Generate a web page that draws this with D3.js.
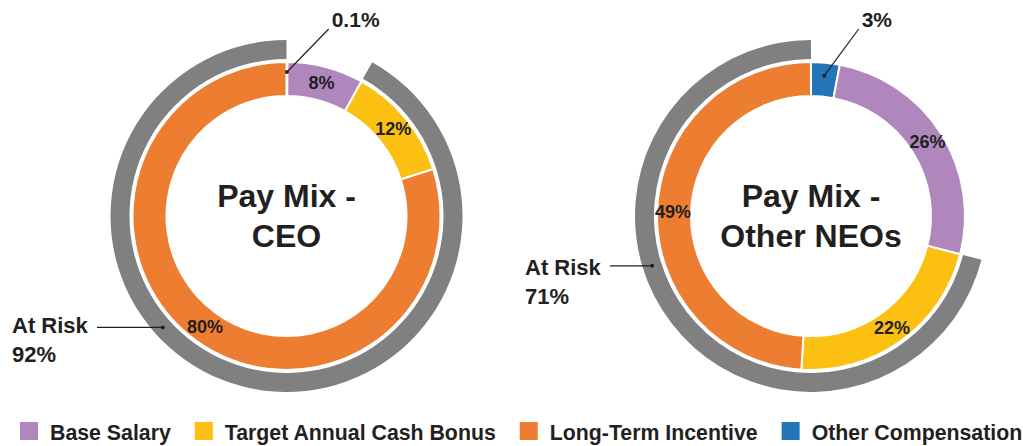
<!DOCTYPE html>
<html>
<head>
<meta charset="utf-8">
<script src="https://cdn.jsdelivr.net/npm/d3@7"></script>
<style>
  body { margin: 0; background: #fff; }
  text { font-family: "Liberation Sans", Arial, sans-serif; font-weight: bold; fill: #231f20; }
</style>
</head>
<body>
<script>
// data
var categories = ["Base Salary", "Target Annual Cash Bonus", "Long-Term Incentive", "Other Compensation"];
var colors = ["#af87bd", "#fbc012", "#ed7d31", "#2474b9"];
var ceoValues = [8, 12, 80, 0.1];
var neoValues = [26, 22, 49, 3];
var atRiskValues = [92, 71];
var titles = [["Pay Mix -", "CEO"], ["Pay Mix -", "Other NEOs"]];
var sliceOrder = [3, 0, 1, 2]; // other comp sits first at 12 o'clock
var atRiskCats = [1, 2];

var svg = d3.select("body").append("svg").attr("width", 1023).attr("height", 446);

var charts = [
  {cx: 286.5, cy: 216, values: ceoValues, title: titles[0], risk: atRiskValues[0],
   riskAngle: 228, riskText: [12, 333], calloutCat: 3, calloutText: [331.7, 27], calloutR: 144},
  {cx: 811, cy: 216, values: neoValues, title: titles[1], risk: atRiskValues[1],
   riskAngle: 252.6, riskText: [525, 275], calloutCat: 3, calloutText: [861.7, 27], calloutR: 141}
];

var arc = d3.arc().innerRadius(120).outerRadius(154);
var grayArc = d3.arc().innerRadius(157).outerRadius(176);
var labelArc = d3.arc().innerRadius(138).outerRadius(138);

function polar(cx, cy, r, deg) {
  var a = deg * Math.PI / 180;
  return [cx + r * Math.sin(a), cy - r * Math.cos(a)];
}

charts.forEach(function(c) {
  var items = sliceOrder.map(function(i) { return {cat: i, value: c.values[i]}; });
  var pie = d3.pie().sort(null).value(function(d) { return d.value; })(items);
  var g = svg.append("g").attr("transform", "translate(" + c.cx + "," + c.cy + ")");

  // gray at-risk ring
  var riskSlices = pie.filter(function(p) { return atRiskCats.indexOf(p.data.cat) >= 0; });
  g.append("path")
    .attr("d", grayArc({startAngle: d3.min(riskSlices, function(p) { return p.startAngle; }),
                        endAngle: d3.max(riskSlices, function(p) { return p.endAngle; })}))
    .attr("fill", "#808080");

  g.selectAll("path.slice").data(pie).enter().append("path")
    .attr("class", "slice")
    .attr("d", arc)
    .attr("fill", function(d) { return colors[d.data.cat]; })
    .attr("stroke", "#fff").attr("stroke-width", 2);

  // inner labels
  g.selectAll("text.lbl").data(pie.filter(function(p) { return p.data.cat !== c.calloutCat; }))
    .enter().append("text")
    .attr("class", "lbl")
    .attr("x", function(d) { return labelArc.centroid(d)[0]; })
    .attr("y", function(d) { return labelArc.centroid(d)[1]; })
    .attr("text-anchor", "middle").attr("dominant-baseline", "central")
    .style("font-size", "18px")
    .text(function(d) { return d.data.value + "%"; });

  // center title
  g.append("text").attr("text-anchor", "middle").attr("y", -9.3).style("font-size", "32px").text(c.title[0]);
  g.append("text").attr("text-anchor", "middle").attr("y", 30.5).style("font-size", "32px").text(c.title[1]);

  // callout for small slice
  var cs = pie.filter(function(p) { return p.data.cat === c.calloutCat; })[0];
  var midDeg = (cs.startAngle + cs.endAngle) / 2 * 180 / Math.PI;
  var dot = polar(c.cx, c.cy, c.calloutR, midDeg);
  svg.append("line").attr("x1", dot[0]).attr("y1", dot[1])
    .attr("x2", c.calloutText[0] - 3).attr("y2", c.calloutText[1] + 2)
    .attr("stroke", "#231f20").attr("stroke-width", 1.2);
  svg.append("circle").attr("cx", dot[0]).attr("cy", dot[1]).attr("r", 2).attr("fill", "#231f20");
  svg.append("text").attr("x", c.calloutText[0]).attr("y", c.calloutText[1])
    .style("font-size", "21px").text(cs.data.value + "%");

  // at risk callout
  var rd = polar(c.cx, c.cy, 166.5, c.riskAngle);
  var t = svg.append("text").attr("x", c.riskText[0]).attr("y", c.riskText[1]).style("font-size", "22px");
  t.append("tspan").attr("x", c.riskText[0]).text("At Risk");
  t.append("tspan").attr("x", c.riskText[0]).attr("dy", 29).text(c.risk + "%");
  svg.append("line").attr("x1", c.riskText[0] + 85).attr("y1", rd[1])
    .attr("x2", rd[0]).attr("y2", rd[1])
    .attr("stroke", "#231f20").attr("stroke-width", 1.2);
  svg.append("circle").attr("cx", rd[0]).attr("cy", rd[1]).attr("r", 2).attr("fill", "#231f20");
});

// legend
var lx = 20;
categories.forEach(function(name, i) {
  svg.append("rect").attr("x", lx).attr("y", 422).attr("width", 18).attr("height", 18).attr("fill", colors[i]);
  var tx = svg.append("text").attr("x", lx + 30).attr("y", 440).style("font-size", "21.3px").text(name);
  lx = lx + 30 + tx.node().getComputedTextLength() + 24;
});
</script>
</body>
</html>
